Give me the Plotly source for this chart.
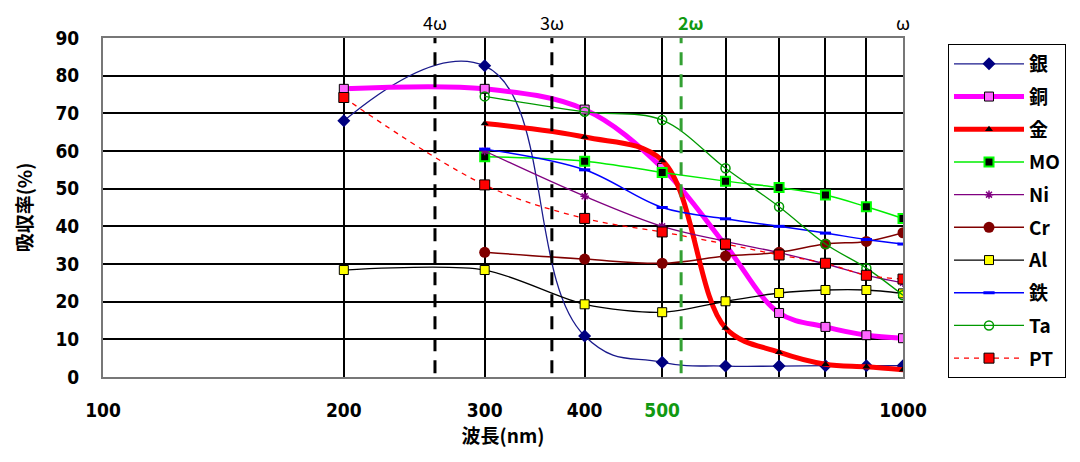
import math
import plotly.graph_objects as go

# ---- data ----
wl_all = [200, 300, 400, 500, 600, 700, 800, 900, 1000]
wl_300 = [300, 400, 500, 600, 700, 800, 900, 1000]

ag = [68, 82.6, 10.9, 3.9, 2.9, 2.9, 3, 3, 3]          # 銀
cu = [76.5, 76.5, 71, 55.5, 35, 17, 13.3, 11.1, 10.3]  # 銅
au = [67.3, 63.7, 57.5, 13, 6.6, 3.4, 2.7, 1.9]        # 金 (300-1000)
mo = [58.5, 57.3, 54.3, 52, 50.3, 48.3, 45.2, 42.1]    # MO
ni = [60, 48, 40, 36, 33, 30, 27, 25]                  # Ni
cr = [33.1, 31.3, 30.2, 32.1, 33.1, 35.3, 36, 38.3]    # Cr
al = [28.4, 28.4, 19.3, 17.2, 20.1, 22.3, 23.1, 23.1, 22.2]  # Al
fe = [60.5, 55, 45, 42, 40, 38.2, 36.5, 35.3]          # 鉄
ta = [74.5, 70.4, 68.2, 55.4, 45.2, 35.3, 28.9, 21.7]  # Ta
pt = [74.2, 51, 42.1, 38.5, 35.3, 32.4, 30.2, 27, 26]  # PT

harm_names = ["4ω", "3ω", "2ω", "ω"]
harm_wl = [260, 364, 528, 1000]

x_ticks = [100, 200, 300, 400, 500, 600, 700, 800, 900, 1000]
x_ticktext = ["100", "200", "300", "400", '<span style="color:#119911">500</span>',
              "", "", "", "", "1000"]
y_ticks = [0, 10, 20, 30, 40, 50, 60, 70, 80, 90]

NUM_FONT = "Liberation Sans Narrow, DejaVu Sans Condensed, Noto Sans CJK JP"
CJK_FONT = "Noto Sans CJK JP, Noto Sans, sans-serif"

W, H = 1072, 454  # page body has an 8px margin in the 1080x462 window

fig = go.Figure()

def add(name, x, y, color, width, marker, dash="solid", smoothing=1.0):
    fig.add_trace(go.Scatter(
        x=x, y=y, name=name, mode="lines+markers",
        line=dict(color=color, width=width, shape="spline", smoothing=smoothing, dash=dash),
        marker=marker, legendgroup=name,
    ))

add("銀", wl_all, ag, "#1a1a8c", 1.3,
    dict(symbol="diamond", size=10, color="#000080", line=dict(width=0)), smoothing=1.3)
add("銅", wl_all, cu, "#ff00ff", 5,
    dict(symbol="square", size=9, color="#ff66ff", line=dict(color="#000000", width=1)))
add("金", wl_300, au, "#ff0000", 5,
    dict(symbol="triangle-up", size=7, color="#000000", line=dict(width=0)))
add("MO", wl_300, mo, "#00ee00", 1.5,
    dict(symbol="square", size=9, color="#000000", line=dict(color="#00ff00", width=2)))
add("Ni", wl_300, ni, "#800080", 1.3,
    dict(symbol="asterisk-open", size=7, color="#800080", line=dict(color="#800080", width=1.5)))
add("Cr", wl_300, cr, "#800000", 1.5,
    dict(symbol="circle", size=11, color="#800000", line=dict(width=0)))
add("Al", wl_all, al, "#000000", 1.3,
    dict(symbol="square", size=9, color="#ffff00", line=dict(color="#000000", width=1)),
    smoothing=0.8)
add("鉄", wl_300, fe, "#0000ff", 1.5,
    dict(symbol="line-ew", size=8, color="#0000ff", line=dict(color="#0000ff", width=3)))
add("Ta", wl_300, ta, "#009900", 1.3,
    dict(symbol="circle-open", size=9, color="#009900", line=dict(color="#009900", width=1.5)))
add("PT", wl_all, pt, "#ff0000", 1.3,
    dict(symbol="square", size=10, color="#ff0000", line=dict(color="#000000", width=1)),
    dash="5px,5px")

# harmonic vertical dashed lines
line_colors = ["#000000", "#000000", "#33a033"]
for name, w, c in zip(harm_names[:3], harm_wl[:3], line_colors):
    fig.add_trace(go.Scatter(
        x=[w, w], y=[1, 90], mode="lines", showlegend=False, hoverinfo="skip",
        line=dict(color=c, width=3, dash="13px,9px"),
    ))

label_colors = ["#000000", "#000000", "#119911", "#000000"]
label_dx = [0, 0, 10, 0]
for name, w, c, dx in zip(harm_names, harm_wl, label_colors, label_dx):
    fig.add_annotation(
        x=math.log10(w), y=1.0, xref="x", yref="paper", yanchor="bottom",
        text=(f"<b>{name}</b>" if c != "#000000" else name), showarrow=False,
        xshift=dx, yshift=2, borderpad=0,
        font=dict(family=CJK_FONT, size=18, color=c),
    )

plot_w = W - 95 - 177
plot_h = H - 30 - 85
fig.update_layout(
    width=W, height=H,
    margin=dict(l=95, r=177, t=30, b=85),
    paper_bgcolor="white", plot_bgcolor="white",
    showlegend=True,
    legend=dict(
        x=(948 - 8 - 95) / plot_w, y=1 - (44 - 38) / plot_h,
        xanchor="left", yanchor="top",
        bordercolor="#000000", borderwidth=1, bgcolor="white",
        font=dict(family=CJK_FONT, size=19, color="#000000", weight="bold"),
        itemwidth=70, tracegroupgap=5,
    ),
)

fig.update_xaxes(
    type="log", range=[2, 3], automargin=False,
    tickvals=x_ticks, ticktext=x_ticktext,
    showgrid=True, gridcolor="#000000", gridwidth=1.5,
    showline=True, linecolor="#777777", linewidth=2, mirror=True,
    ticks="", ticklabelstandoff=15,
    tickfont=dict(family=NUM_FONT, size=19, color="#000000", weight="bold"),
    title=dict(text="<b>波長(nm)</b>", standoff=10,
               font=dict(family=CJK_FONT, size=19, color="#000000")),
    zeroline=False,
)
fig.update_yaxes(
    range=[0, 90], tickvals=y_ticks, automargin=False,
    showgrid=True, gridcolor="#000000", gridwidth=1.5,
    showline=True, linecolor="#777777", linewidth=2, mirror=True,
    ticks="", ticklabelstandoff=18,
    tickfont=dict(family=NUM_FONT, size=19, color="#000000", weight="bold"),
    title=dict(text="<b>吸収率(%)</b>", standoff=18,
               font=dict(family=CJK_FONT, size=19, color="#000000")),
    zeroline=False,
)

fig.write_html("out.html")
